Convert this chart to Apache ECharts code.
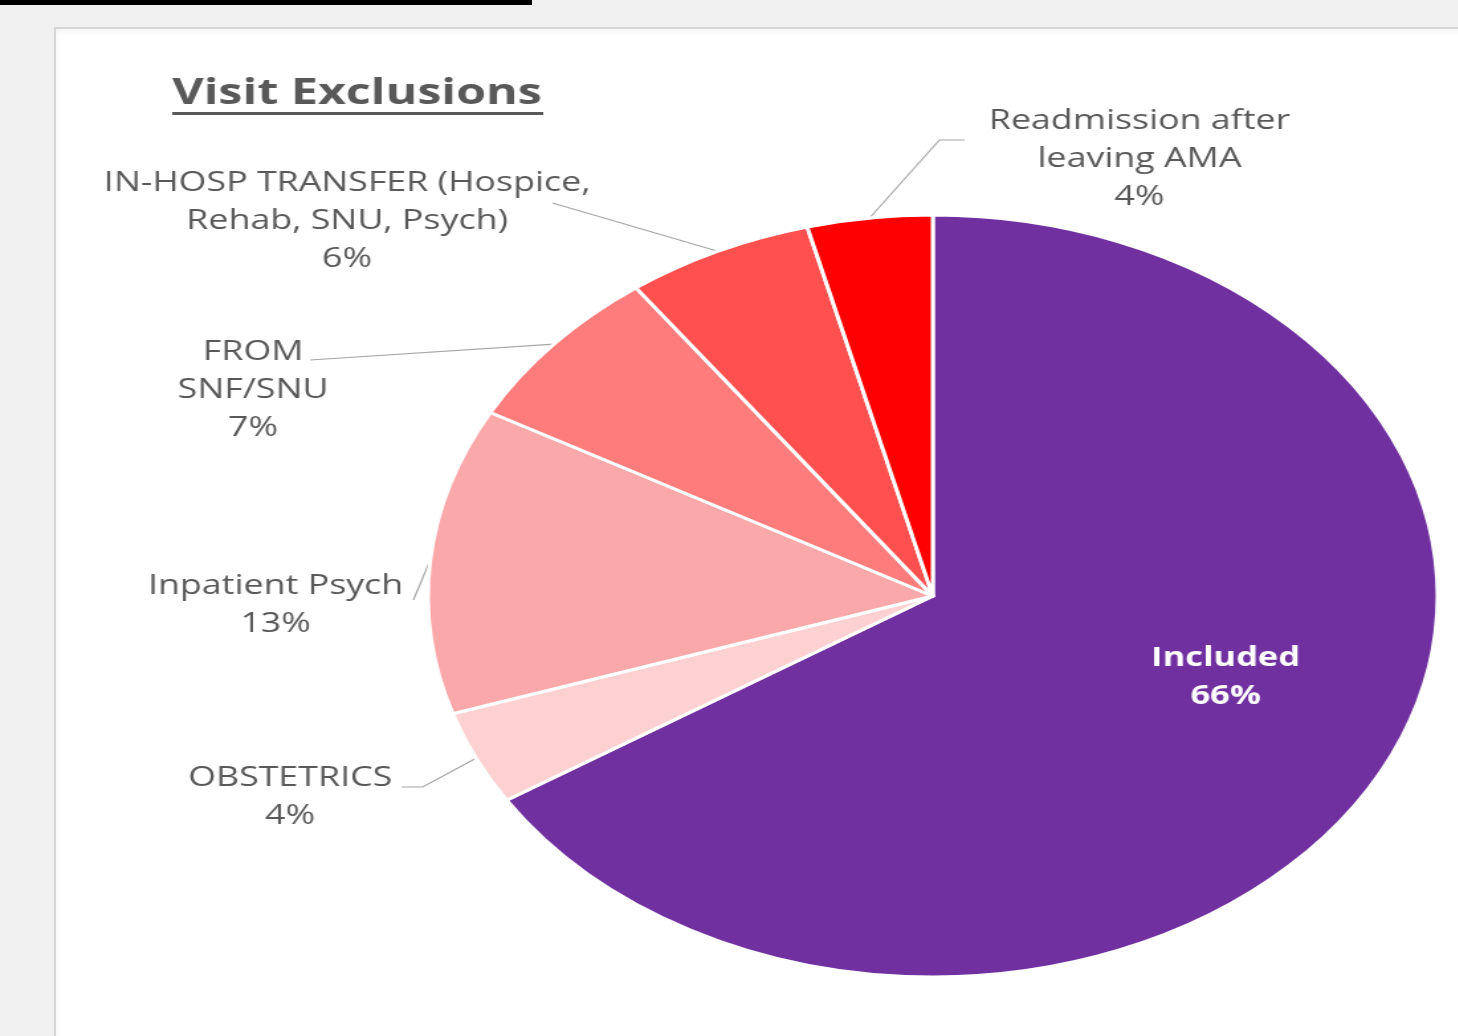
<!DOCTYPE html>
<html>
<head>
<meta charset="utf-8">
<title>Visit Exclusions</title>
<script src="https://cdn.jsdelivr.net/npm/echarts@6/dist/echarts.min.js"></script>
<style>
  html, body { margin: 0; padding: 0; }
  body { width: 1458px; height: 1036px; background: #f0f0f0; position: relative; overflow: hidden; }
  #topbar { position: absolute; left: 0; top: 0; width: 532px; height: 5px; background: #000; }
  #panel { position: absolute; left: 54px; top: 27px; width: 1420px; height: 1020px; background: #fff;
           border-left: 2px solid #d6d6d6; border-top: 2px solid #d6d6d6;
           box-shadow: inset 2px 3px 4px rgba(0,0,0,0.04); }
  /* the chart is laid out at natural width and widened horizontally */
  #chart { position: absolute; left: 0; top: 0; width: 1101px; height: 1036px;
           transform: scaleX(1.325); transform-origin: 0 0; }
</style>
</head>
<body>
<div id="topbar"></div>
<div id="panel"></div>
<div id="chart"></div>
<script>
// Slice names and shares (percent), clockwise from 12 o'clock
const categories = [
  'Included',
  'OBSTETRICS',
  'Inpatient Psych',
  'FROM\nSNF/SNU',
  'IN-HOSP TRANSFER (Hospice,\nRehab, SNU, Psych)',
  'Readmission after\nleaving AMA'
];
const shares = [66, 4, 13, 7, 6, 4];
const sliceColors = ['#7030a0', '#fdd1d2', '#fba8aa', '#ff7c7c', '#ff5050', '#ff0000'];

// Where each label block sits and how its leader line bends
const labelSpots = [
  { x: 925, y: 678, bend: null },
  { x: 219, y: 797, bend: [[319, 787], [303, 787]] },
  { x: 208, y: 605, bend: [[312, 600]] },
  { x: 191, y: 390, bend: [[234, 360]] },
  { x: 262, y: 221, bend: [[417, 203]] },
  { x: 860, y: 159, bend: [[709, 140], [728, 140]] }
];

const chart = echarts.init(document.getElementById('chart'), null, { renderer: 'canvas' });

const pieData = categories.map((name, i) => {
  const item = { name: name, value: shares[i], itemStyle: { color: sliceColors[i] } };
  if (i === 0) {
    item.label = { position: 'inside', color: '#ffffff', fontWeight: 'bold', fontSize: 26, lineHeight: 38 };
    item.labelLine = { show: false };
  }
  return item;
});

chart.setOption({
  animation: false,
  graphic: [
    {
      type: 'text',
      left: 130,
      top: 75,
      z: 10,
      style: {
        text: 'Visit Exclusions',
        fill: '#595959',
        font: 'bold 36.5px "Open Sans", sans-serif'
      }
    },
    {
      type: 'rect',
      z: 10,
      shape: { x: 130, y: 112, width: 280, height: 3 },
      style: { fill: '#595959' }
    }
  ],
  series: [{
    type: 'pie',
    center: [704, 596],
    radius: 381,
    startAngle: 90,
    clockwise: true,
    avoidLabelOverlap: false,
    data: pieData,
    itemStyle: { borderColor: '#ffffff', borderWidth: 3 },
    label: {
      show: true,
      formatter: p => p.name + '\n' + Math.round(p.percent) + '%',
      fontFamily: '"Open Sans", sans-serif',
      fontSize: 27,
      lineHeight: 38,
      color: '#595959',
      align: 'center'
    },
    labelLine: {
      show: true,
      lineStyle: { color: '#a6a6a6', width: 1.2 }
    },
    labelLayout: function (params) {
      const spot = labelSpots[params.dataIndex];
      const out = { x: spot.x, y: spot.y, align: 'center', verticalAlign: 'middle' };
      if (spot.bend && params.labelLinePoints) {
        out.labelLinePoints = [params.labelLinePoints[0]].concat(spot.bend);
      }
      return out;
    }
  }]
});
</script>
</body>
</html>
